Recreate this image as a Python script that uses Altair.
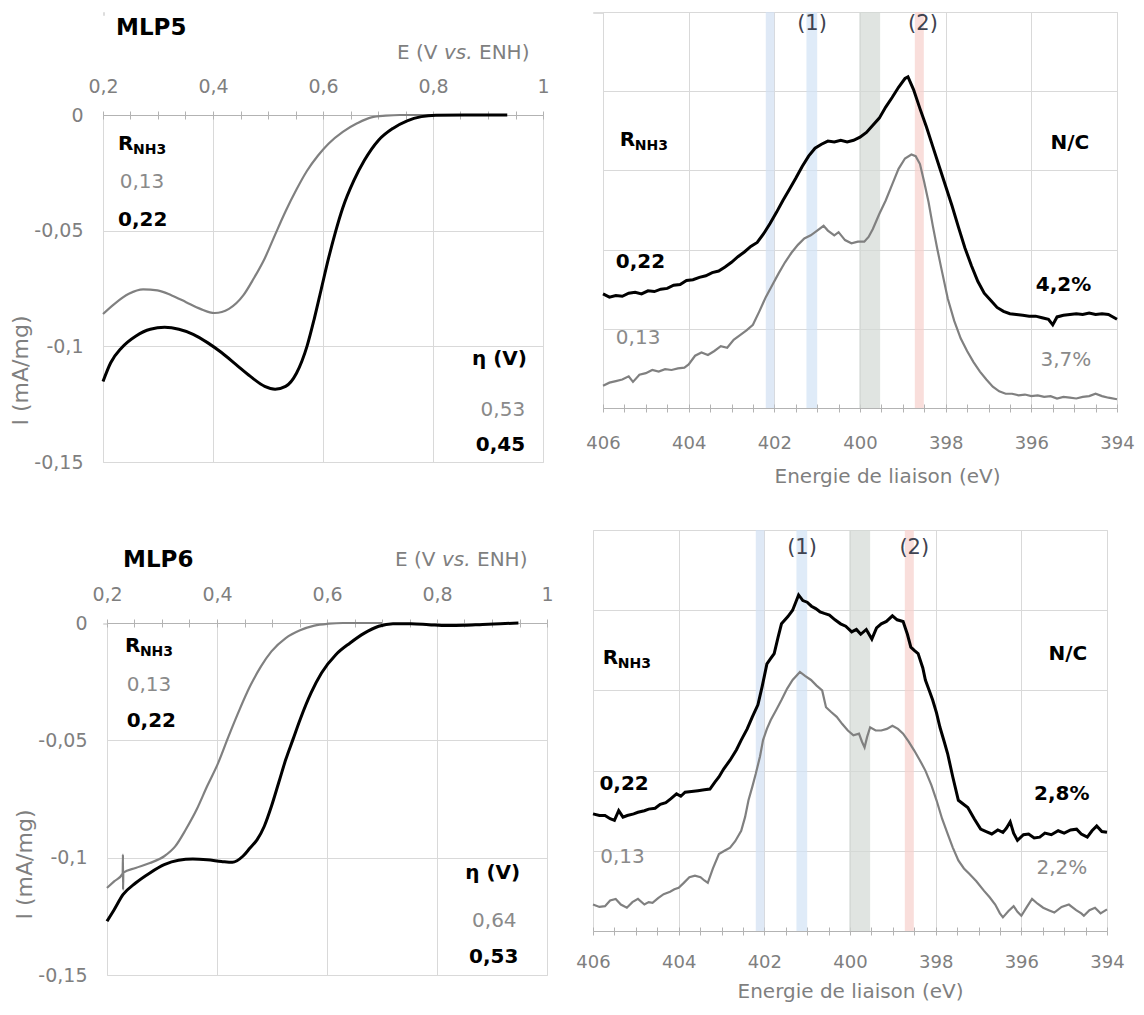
import altair as alt
import pandas as pd

FONT = "DejaVu Sans"
GRID = "#d9d9d9"
AXIS_GRAY = "#b3b3b3"
LABEL_GRAY = "#7f7f7f"
GRAY_LINE = "#808080"
TEXT_GRAY = "#8a8a8a"
BLACK = "#000000"
NUM_COLOR = "#3f4350"

# ---------------- tick values ----------------
LSV_X_TICKS = [0.2, 0.25, 0.3, 0.35, 0.4, 0.45, 0.5, 0.55, 0.6, 0.65, 0.7, 0.75,
               0.8, 0.85, 0.9, 0.95, 1.0]
LSV_Y_TICKS = [0, -0.05, -0.1, -0.15]
XPS_X_TICKS = [406, 405.5, 405, 404.5, 404, 403.5, 403, 402.5, 402, 401.5, 401, 400.5,
               400, 399.5, 399, 398.5, 398, 397.5, 397, 396.5, 396, 395.5, 395, 394.5, 394]
XPS_Y_TICKS = [0, 1, 2, 3, 4, 5]

# ---------------- MLP5 LSV ----------------
MLP5_E_013 = [0.200, 0.221, 0.247, 0.273, 0.299, 0.325, 0.351, 0.377, 0.403, 0.429, 0.455,
              0.474, 0.494, 0.513, 0.532, 0.552, 0.571, 0.591, 0.610, 0.636, 0.662, 0.688,
              0.714, 0.740, 0.800, 0.860, 0.930]
MLP5_I_013 = [-0.0860, -0.0816, -0.0773, -0.0754, -0.0758, -0.0780, -0.0809, -0.0838, -0.0856,
              -0.0838, -0.0780, -0.0707, -0.0620, -0.0517, -0.0416, -0.0321, -0.0241, -0.0175,
              -0.0124, -0.0073, -0.0036, -0.0010, -0.0003, 0.0, 0.0, 0.0, 0.0]
MLP5_E_022 = [0.200, 0.214, 0.234, 0.260, 0.286, 0.312, 0.338, 0.364, 0.390, 0.416, 0.442,
              0.468, 0.494, 0.513, 0.532, 0.552, 0.571, 0.584, 0.597, 0.610, 0.623, 0.636,
              0.656, 0.675, 0.701, 0.727, 0.753, 0.779, 0.805, 0.857, 0.935]
MLP5_I_022 = [-0.1152, -0.1071, -0.1006, -0.0955, -0.0926, -0.0918, -0.0926, -0.0948, -0.0984,
              -0.1028, -0.1079, -0.1130, -0.1173, -0.1185, -0.1173, -0.1115, -0.0999, -0.0882,
              -0.0751, -0.0620, -0.0503, -0.0401, -0.0284, -0.0197, -0.0109, -0.0058, -0.0025,
              -0.0007, -0.0001, 0.0, 0.0]

# ---------------- MLP6 LSV ----------------
MLP6_E_013 = [0.200, 0.213, 0.2285, 0.2290, 0.2292, 0.2297, 0.252, 0.278, 0.304, 0.324, 0.343,
              0.363, 0.382, 0.402, 0.421, 0.441, 0.460, 0.480, 0.499, 0.525, 0.551, 0.577,
              0.603, 0.629, 0.700]
MLP6_I_013 = [-0.1129, -0.1101, -0.1068, -0.0987, -0.1136, -0.1064, -0.1044, -0.1023, -0.0994,
              -0.0952, -0.0881, -0.0795, -0.0696, -0.0597, -0.0483, -0.0369, -0.0270, -0.0185,
              -0.0121, -0.0064, -0.0031, -0.0011, -0.0003, 0.0, 0.0]
MLP6_E_022 = [0.200, 0.213, 0.229, 0.252, 0.278, 0.304, 0.330, 0.356, 0.382, 0.408, 0.428,
              0.447, 0.460, 0.473, 0.486, 0.499, 0.512, 0.525, 0.538, 0.551, 0.571, 0.590,
              0.616, 0.642, 0.668, 0.694, 0.720, 0.753, 0.785, 0.818, 0.850, 0.883, 0.915, 0.948]
MLP6_I_022 = [-0.1271, -0.1222, -0.1158, -0.1108, -0.1065, -0.1030, -0.1011, -0.1006, -0.1009,
              -0.1016, -0.1020, -0.0994, -0.0959, -0.0923, -0.0866, -0.0781, -0.0682, -0.0582,
              -0.0497, -0.0412, -0.0298, -0.0213, -0.0135, -0.0085, -0.0043, -0.0014, -0.0003,
              -0.0003, -0.0007, -0.0011, -0.0010, -0.0006, -0.0003, 0.0]

# ---------------- MLP5 XPS ----------------
XPS5_E_022 = [406.0, 405.85, 405.7, 405.55, 405.4, 405.25, 405.1, 404.95, 404.8, 404.65, 404.5,
              404.35, 404.2, 404.05, 403.9, 403.75, 403.6, 403.45, 403.3, 403.15, 403.0, 402.85,
              402.7, 402.55, 402.4, 402.25, 402.1, 401.95, 401.8, 401.65, 401.5, 401.35, 401.2,
              401.05, 400.9, 400.75, 400.6, 400.45, 400.3, 400.15, 400.0, 399.85, 399.7, 399.55,
              399.4, 399.25, 399.1, 398.95, 398.88, 398.75, 398.6, 398.45, 398.3, 398.15, 398.0,
              397.85, 397.7, 397.55, 397.4, 397.25, 397.1, 396.95, 396.8, 396.65, 396.5, 396.35,
              396.2, 396.05, 395.9, 395.75, 395.6, 395.5, 395.4, 395.25, 395.1, 394.95, 394.8,
              394.65, 394.5, 394.35, 394.2, 394.0]
XPS5_I_022 = [1.44, 1.40, 1.42, 1.41, 1.45, 1.46, 1.44, 1.48, 1.47, 1.50, 1.51, 1.55, 1.56, 1.61,
              1.62, 1.65, 1.67, 1.71, 1.73, 1.78, 1.84, 1.91, 1.97, 2.04, 2.09, 2.20, 2.33, 2.47,
              2.62, 2.76, 2.90, 3.05, 3.18, 3.28, 3.33, 3.37, 3.36, 3.38, 3.36, 3.38, 3.42, 3.48,
              3.57, 3.66, 3.80, 3.92, 4.05, 4.16, 4.18, 4.02, 3.78, 3.55, 3.30, 3.05, 2.80, 2.55,
              2.28, 2.02, 1.80, 1.60, 1.45, 1.36, 1.27, 1.22, 1.19, 1.18, 1.17, 1.16, 1.16, 1.14,
              1.12, 1.05, 1.15, 1.17, 1.18, 1.19, 1.18, 1.20, 1.18, 1.19, 1.18, 1.12]
XPS5_E_013 = [406.0, 405.85, 405.7, 405.55, 405.4, 405.3, 405.15, 405.0, 404.85, 404.7, 404.55,
              404.4, 404.25, 404.1, 404.0, 403.85, 403.7, 403.55, 403.4, 403.25, 403.1, 402.95,
              402.8, 402.65, 402.5, 402.35, 402.2, 402.05, 401.9, 401.75, 401.6, 401.45, 401.3,
              401.15, 401.0, 400.85, 400.75, 400.6, 400.5, 400.35, 400.2, 400.05, 399.9, 399.8,
              399.7, 399.55, 399.4, 399.25, 399.1, 398.95, 398.8, 398.7, 398.6, 398.5, 398.4,
              398.3, 398.2, 398.1, 397.95, 397.8, 397.65, 397.5, 397.35, 397.2, 397.05, 396.9,
              396.75, 396.6, 396.45, 396.3, 396.15, 396.0, 395.85, 395.7, 395.55, 395.4, 395.25,
              395.1, 394.95, 394.8, 394.65, 394.5, 394.35, 394.2, 394.0]
XPS5_I_013 = [0.28, 0.32, 0.34, 0.36, 0.40, 0.33, 0.42, 0.44, 0.48, 0.46, 0.49, 0.48, 0.50, 0.51,
              0.55, 0.66, 0.70, 0.67, 0.72, 0.78, 0.76, 0.86, 0.92, 0.98, 1.05, 1.22, 1.40, 1.55,
              1.70, 1.84, 1.96, 2.06, 2.14, 2.18, 2.24, 2.30, 2.24, 2.18, 2.22, 2.12, 2.08, 2.10,
              2.10, 2.16, 2.26, 2.45, 2.62, 2.82, 3.02, 3.15, 3.20, 3.18, 3.08, 2.85, 2.60, 2.30,
              2.02, 1.76, 1.38, 1.10, 0.88, 0.72, 0.58, 0.46, 0.36, 0.27, 0.21, 0.18, 0.18, 0.16,
              0.17, 0.15, 0.16, 0.14, 0.15, 0.12, 0.14, 0.13, 0.12, 0.14, 0.15, 0.18, 0.15, 0.13,
              0.11]

# ---------------- MLP6 XPS ----------------
XPS6_E_022 = [406.0, 405.85, 405.72, 405.6, 405.5, 405.4, 405.3, 405.2, 405.05, 404.95, 404.8,
              404.7, 404.55, 404.43, 404.3, 404.18, 404.05, 403.95, 403.85, 403.7, 403.55, 403.4,
              403.27, 403.15, 403.06, 402.95, 402.8, 402.65, 402.54, 402.4, 402.28, 402.15,
              402.05, 401.94, 401.85, 401.77, 401.68, 401.6, 401.45, 401.34, 401.2, 401.1, 401.0,
              400.9, 400.8, 400.7, 400.6, 400.48, 400.35, 400.22, 400.1, 399.96, 399.85, 399.75,
              399.62, 399.49, 399.38, 399.27, 399.15, 399.01, 398.9, 398.76, 398.66, 398.58,
              398.5, 398.41, 398.3, 398.24, 398.15, 398.07, 397.98, 397.9, 397.8, 397.72, 397.6,
              397.47, 397.35, 397.25, 397.1, 396.95, 396.82, 396.69, 396.55, 396.43, 396.35,
              396.26, 396.18, 396.09, 395.95, 395.83, 395.7, 395.57, 395.45, 395.3, 395.14, 395.0,
              394.85, 394.71, 394.6, 394.46, 394.35, 394.24, 394.12, 394.0]
XPS6_I_022 = [1.46, 1.44, 1.44, 1.40, 1.38, 1.50, 1.42, 1.44, 1.46, 1.48, 1.50, 1.52, 1.53, 1.58,
              1.60, 1.65, 1.71, 1.68, 1.73, 1.74, 1.75, 1.76, 1.77, 1.86, 1.92, 2.02, 2.13, 2.26,
              2.38, 2.52, 2.67, 2.82, 3.05, 3.33, 3.40, 3.46, 3.66, 3.83, 3.92, 4.00, 4.19, 4.12,
              4.10, 4.05, 4.02, 3.98, 3.96, 3.94, 3.88, 3.83, 3.80, 3.73, 3.76, 3.70, 3.76, 3.64,
              3.78, 3.83, 3.86, 3.93, 3.88, 3.86, 3.70, 3.54, 3.50, 3.46, 3.28, 3.13, 3.00, 2.88,
              2.72, 2.54, 2.36, 2.21, 1.92, 1.63, 1.58, 1.54, 1.40, 1.27, 1.24, 1.21, 1.26, 1.23,
              1.28, 1.36, 1.22, 1.13, 1.20, 1.21, 1.16, 1.17, 1.22, 1.20, 1.25, 1.22, 1.26, 1.27,
              1.21, 1.17, 1.25, 1.31, 1.24, 1.23]
XPS6_E_013 = [406.0, 405.85, 405.72, 405.6, 405.47, 405.35, 405.21, 405.08, 404.95, 404.8, 404.7,
              404.61, 404.48, 404.35, 404.2, 404.1, 404.0, 403.88, 403.75, 403.62, 403.49, 403.4,
              403.32, 403.2, 403.06, 402.93, 402.8, 402.68, 402.54, 402.45, 402.37, 402.28,
              402.2, 402.1, 402.03, 401.94, 401.85, 401.72, 401.6, 401.47, 401.34, 401.17,
              401.05, 400.91, 400.78, 400.65, 400.56, 400.44, 400.31, 400.18, 400.05, 399.92,
              399.79, 399.72, 399.66, 399.6, 399.53, 399.4, 399.27, 399.14, 399.01, 398.88,
              398.76, 398.63, 398.5, 398.37, 398.24, 398.1, 397.98, 397.85, 397.72, 397.6,
              397.47, 397.34, 397.21, 397.05, 396.87, 396.74, 396.61, 396.5, 396.43, 396.3,
              396.18, 396.09, 396.0, 395.87, 395.75, 395.62, 395.49, 395.36, 395.23, 395.06,
              394.89, 394.72, 394.6, 394.54, 394.41, 394.28, 394.15, 394.0]
XPS6_I_013 = [0.33, 0.30, 0.31, 0.38, 0.40, 0.33, 0.29, 0.36, 0.40, 0.33, 0.36, 0.35, 0.41, 0.46,
              0.49, 0.52, 0.54, 0.60, 0.67, 0.69, 0.67, 0.63, 0.60, 0.78, 0.96, 1.00, 1.04, 1.12,
              1.25, 1.42, 1.63, 1.80, 1.96, 2.18, 2.38, 2.52, 2.63, 2.76, 2.88, 3.02, 3.13, 3.23,
              3.18, 3.13, 3.06, 3.00, 2.79, 2.73, 2.67, 2.58, 2.50, 2.44, 2.46, 2.36, 2.29, 2.42,
              2.54, 2.50, 2.50, 2.52, 2.56, 2.52, 2.46, 2.36, 2.25, 2.13, 2.00, 1.82, 1.63, 1.40,
              1.21, 1.04, 0.88, 0.78, 0.71, 0.62, 0.50, 0.42, 0.33, 0.22, 0.17, 0.25, 0.31, 0.24,
              0.19, 0.30, 0.40, 0.34, 0.29, 0.26, 0.23, 0.30, 0.33, 0.26, 0.22, 0.19, 0.26, 0.29,
              0.22, 0.27]

# ---------------- XPS bands (eV) ----------------
BAND_LO = [402.2, 401.25, 400.02, 398.72]
BAND_HI = [402.0, 401.0, 399.53, 398.51]
BAND_COLOR = ["#d2dff2", "#d2e2f5", "#d3d9d4", "#f6d0cc"]

# ---------------- annotations ----------------
STYLES = {
    "rb": dict(fontWeight="bold", fontSize=20, color=BLACK, align="left"),
    "sub": dict(fontWeight="bold", fontSize=14, color=BLACK, align="left", dx=15, dy=6),
    "bl": dict(fontWeight="bold", fontSize=20, color=BLACK, align="left"),
    "gl": dict(fontWeight="normal", fontSize=20, color=TEXT_GRAY, align="left"),
    "br": dict(fontWeight="bold", fontSize=20, color=BLACK, align="right"),
    "gr": dict(fontWeight="normal", fontSize=20, color=TEXT_GRAY, align="right"),
    "num": dict(fontWeight="normal", fontSize=21, color=NUM_COLOR, align="center"),
}

P1_ANN = [(0.2273, -0.0126, "R", "rb"), (0.2273, -0.0126, "NH3", "sub"),
          (0.2305, -0.0288, "0,13", "gl"), (0.2273, -0.0454, "0,22", "bl"),
          (0.9708, -0.1053, "η (V)", "br"), (0.9675, -0.1276, "0,53", "gr"),
          (0.9675, -0.1428, "0,45", "br")]
P3_ANN = [(0.2325, -0.0100, "R", "rb"), (0.2325, -0.0100, "NH3", "sub"),
          (0.2358, -0.0263, "0,13", "gl"), (0.2358, -0.0419, "0,22", "bl"),
          (0.9512, -0.1066, "η (V)", "br"), (0.9447, -0.1272, "0,64", "gr"),
          (0.9480, -0.1422, "0,53", "br")]
P2_ANN = [(405.61, 3.39, "R", "rb"), (405.61, 3.39, "NH3", "sub"),
          (394.65, 3.35, "N/C", "br"), (405.70, 1.84, "0,22", "bl"),
          (394.60, 1.55, "4,2%", "br"), (405.70, 0.89, "0,13", "gl"),
          (394.60, 0.61, "3,7%", "gr"), (401.12, 4.85, "(1)", "num"),
          (398.53, 4.85, "(2)", "num")]
P4_ANN = [(405.77, 3.41, "R", "rb"), (405.77, 3.41, "NH3", "sub"),
          (394.46, 3.45, "N/C", "br"), (405.85, 1.83, "0,22", "bl"),
          (394.41, 1.71, "2,8%", "br"), (405.83, 0.92, "0,13", "gl"),
          (394.46, 0.79, "2,2%", "gr"), (401.12, 4.78, "(1)", "num"),
          (398.50, 4.78, "(2)", "num")]

LSV_MAJOR = "abs(datum.value*5 - round(datum.value*5)) < 0.001"
XPS_MAJOR = "datum.value % 2 == 0"


def series_df(xs, ys):
    n = min(len(xs), len(ys))
    return pd.DataFrame({"x": xs[:n], "y": ys[:n], "k": list(range(n))})


def text_layers(ann, xs, ys):
    layers = []
    for style, kw in STYLES.items():
        rows = [a for a in ann if a[3] == style]
        if not rows:
            continue
        df = pd.DataFrame({"x": [r[0] for r in rows], "y": [r[1] for r in rows],
                           "t": [r[2] for r in rows]})
        layers.append(
            alt.Chart(df).mark_text(font=FONT, baseline="middle", **kw).encode(
                x=alt.X("x:Q", scale=xs, axis=None),
                y=alt.Y("y:Q", scale=ys, axis=None),
                text="t:N",
            )
        )
    return layers


def fixed_text(text, x, y, **kw):
    return alt.Chart(pd.DataFrame({"t": [text]})).mark_text(
        font=FONT, baseline="middle", align="left", **kw
    ).encode(x=alt.value(x), y=alt.value(y), text="t:N")


def lsv_panel(e13, i13, e22, i22, ann, name, name_xy, etitle_xy, title_y, W, H):
    xs = alt.Scale(domain=[0.2, 1.0], nice=False, zero=False)
    ys = alt.Scale(domain=[-0.15, 0], nice=False, zero=False)
    d13 = series_df(e13, i13)
    d22 = series_df(e22, i22)
    x_main = alt.Axis(
        orient="top", values=LSV_X_TICKS,
        labelExpr=LSV_MAJOR + " ? replace(toString(datum.value), '.', ',') : ''",
        grid=True, gridColor=GRID,
        gridOpacity={"condition": {"test": LSV_MAJOR, "value": 1}, "value": 0},
        ticks=True, tickSize=4, tickColor=AXIS_GRAY, domain=True, domainColor=AXIS_GRAY,
        labelColor=LABEL_GRAY, labelFont=FONT, labelFontSize=19, labelPadding=15,
        labelOverlap=False, labelFlush=False, title=None,
    )
    x_minor = alt.Axis(
        orient="bottom", offset=-H, values=LSV_X_TICKS, labels=False, grid=False,
        domain=False, ticks=True, tickSize=4, tickColor=AXIS_GRAY, title=None,
    )
    y_axis = alt.Axis(
        orient="left", values=LSV_Y_TICKS, labelExpr="replace(toString(datum.value), '.', ',')",
        grid=True, gridColor=GRID, ticks=False, tickSize=0, domain=False,
        labelColor=LABEL_GRAY, labelFont=FONT, labelFontSize=19, labelPadding=20,
        labelOverlap=False, labelFlush=False,
        title="I (mA/mg)", titleFont=FONT, titleFontSize=22, titleFontWeight="normal",
        titleColor=LABEL_GRAY, titleY=title_y, titlePadding=1,
    )
    gray = alt.Chart(d13).mark_line(color=GRAY_LINE, strokeWidth=2.2, interpolate="monotone").encode(
        x=alt.X("x:Q", scale=xs, axis=x_main),
        y=alt.Y("y:Q", scale=ys, axis=y_axis),
        order="k:Q",
    )
    minor = alt.Chart(d13).mark_point(opacity=0, size=1).encode(
        x=alt.X("x:Q", scale=xs, axis=x_minor),
        y=alt.Y("y:Q", scale=ys, axis=None),
    )
    black = alt.Chart(d22).mark_line(color=BLACK, strokeWidth=3, interpolate="monotone").encode(
        x=alt.X("x:Q", scale=xs, axis=None),
        y=alt.Y("y:Q", scale=ys, axis=None),
        order="k:Q",
    )
    ex, ey = etitle_xy
    heads = [
        fixed_text(name, name_xy[0], name_xy[1], fontSize=23, fontWeight="bold", color=BLACK),
        fixed_text("E (V", ex, ey, fontSize=20, color=LABEL_GRAY),
        fixed_text("vs.", ex + 47, ey, fontSize=20, color=LABEL_GRAY, fontStyle="italic"),
        fixed_text("ENH)", ex + 82, ey, fontSize=20, color=LABEL_GRAY),
    ]
    return alt.layer(gray, minor, black, *text_layers(ann, xs, ys), *heads).resolve_axis(
        x="independent", y="independent"
    ).properties(width=W, height=H)


def xps_panel(e13, i13, e22, i22, ann, W, H, label_pad, title_pad, title_x):
    xs = alt.Scale(domain=[394, 406], reverse=True, nice=False, zero=False)
    ys = alt.Scale(domain=[0, 5], nice=False, zero=False)
    d13 = series_df(e13, i13)
    d22 = series_df(e22, i22)
    bands = pd.DataFrame({"lo": BAND_LO, "hi": BAND_HI, "c": BAND_COLOR,
                          "y0": [0] * len(BAND_LO), "y1": [5] * len(BAND_LO)})
    x_main_kw = dict(
        orient="bottom", values=XPS_X_TICKS,
        labelExpr=XPS_MAJOR + " ? toString(datum.value) : ''",
        grid=True, gridColor=GRID,
        gridOpacity={"condition": {"test": XPS_MAJOR, "value": 1}, "value": 0},
        ticks=True, tickSize=4, tickColor=AXIS_GRAY, domain=True, domainColor=AXIS_GRAY,
        labelColor=LABEL_GRAY, labelFont=FONT, labelFontSize=18, labelPadding=label_pad,
        labelOverlap=False, labelFlush=False,
        title="Energie de liaison (eV)", titleFont=FONT, titleFontSize=20,
        titleFontWeight="normal", titleColor=LABEL_GRAY, titlePadding=title_pad,
    )
    if title_x is not None:
        x_main_kw["titleX"] = title_x
    x_main = alt.Axis(**x_main_kw)
    x_minor = alt.Axis(
        orient="top", offset=-H, values=XPS_X_TICKS, labels=False, grid=False,
        domain=False, ticks=True, tickSize=4, tickColor=AXIS_GRAY, title=None,
    )
    y_axis = alt.Axis(orient="left", values=XPS_Y_TICKS, labels=False, ticks=False,
                      domain=False, grid=True, gridColor=GRID, title=None)
    band = alt.Chart(bands).mark_rect(opacity=0.7).encode(
        x=alt.X("lo:Q", scale=xs, axis=None),
        x2="hi:Q",
        y=alt.Y("y0:Q", scale=ys, axis=None),
        y2="y1:Q",
        color=alt.Color("c:N", scale=None),
    )
    gray = alt.Chart(d13).mark_line(color=GRAY_LINE, strokeWidth=2.2).encode(
        x=alt.X("x:Q", scale=xs, axis=x_main),
        y=alt.Y("y:Q", scale=ys, axis=y_axis),
        order="k:Q",
    )
    minor = alt.Chart(d13).mark_point(opacity=0, size=1).encode(
        x=alt.X("x:Q", scale=xs, axis=x_minor),
        y=alt.Y("y:Q", scale=ys, axis=None),
    )
    black = alt.Chart(d22).mark_line(color=BLACK, strokeWidth=3).encode(
        x=alt.X("x:Q", scale=xs, axis=None),
        y=alt.Y("y:Q", scale=ys, axis=None),
        order="k:Q",
    )
    return alt.layer(band, gray, minor, black, *text_layers(ann, xs, ys)).resolve_axis(
        x="independent", y="independent"
    ).properties(width=W, height=H)


def spacer(w, h):
    return alt.Chart(pd.DataFrame({"s": [0]})).mark_rect(opacity=0).encode(
        x=alt.value(0), x2=alt.value(w), y=alt.value(0), y2=alt.value(h)
    ).properties(width=w, height=h)


p1 = lsv_panel(MLP5_E_013, MLP5_I_013, MLP5_E_022, MLP5_I_022, P1_ANN, "MLP5",
               (13, -87), (294, -62), 255, 440, 347)
p3 = lsv_panel(MLP6_E_013, MLP6_I_013, MLP6_E_022, MLP6_I_022, P3_ANN, "MLP6",
               (16, -63), (288, -63), 241, 440, 352)
p2 = xps_panel(XPS5_E_013, XPS5_I_013, XPS5_E_022, XPS5_I_022, P2_ANN, 514, 396, 22, 14, 284)
p4 = xps_panel(XPS6_E_013, XPS6_I_013, XPS6_E_022, XPS6_I_022, P4_ANN, 514, 401, 18, 10, None)

left = alt.vconcat(
    spacer(1, 3),
    alt.vconcat(p1, alt.hconcat(spacer(4, 1), p3, spacing=0, bounds="flush"), spacing=75),
    spacing=0,
)
right = alt.vconcat(
    alt.hconcat(spacer(10, 1), p2, spacing=0, bounds="flush"),
    p4,
    spacing=42,
)

chart = alt.hconcat(left, right, spacing=21).properties(
    padding={"left": 1, "top": 3, "right": 0, "bottom": 3}
).configure_view(stroke=None).configure(font=FONT)

chart.save("out.html", embed_options={"renderer": "svg", "actions": False})
